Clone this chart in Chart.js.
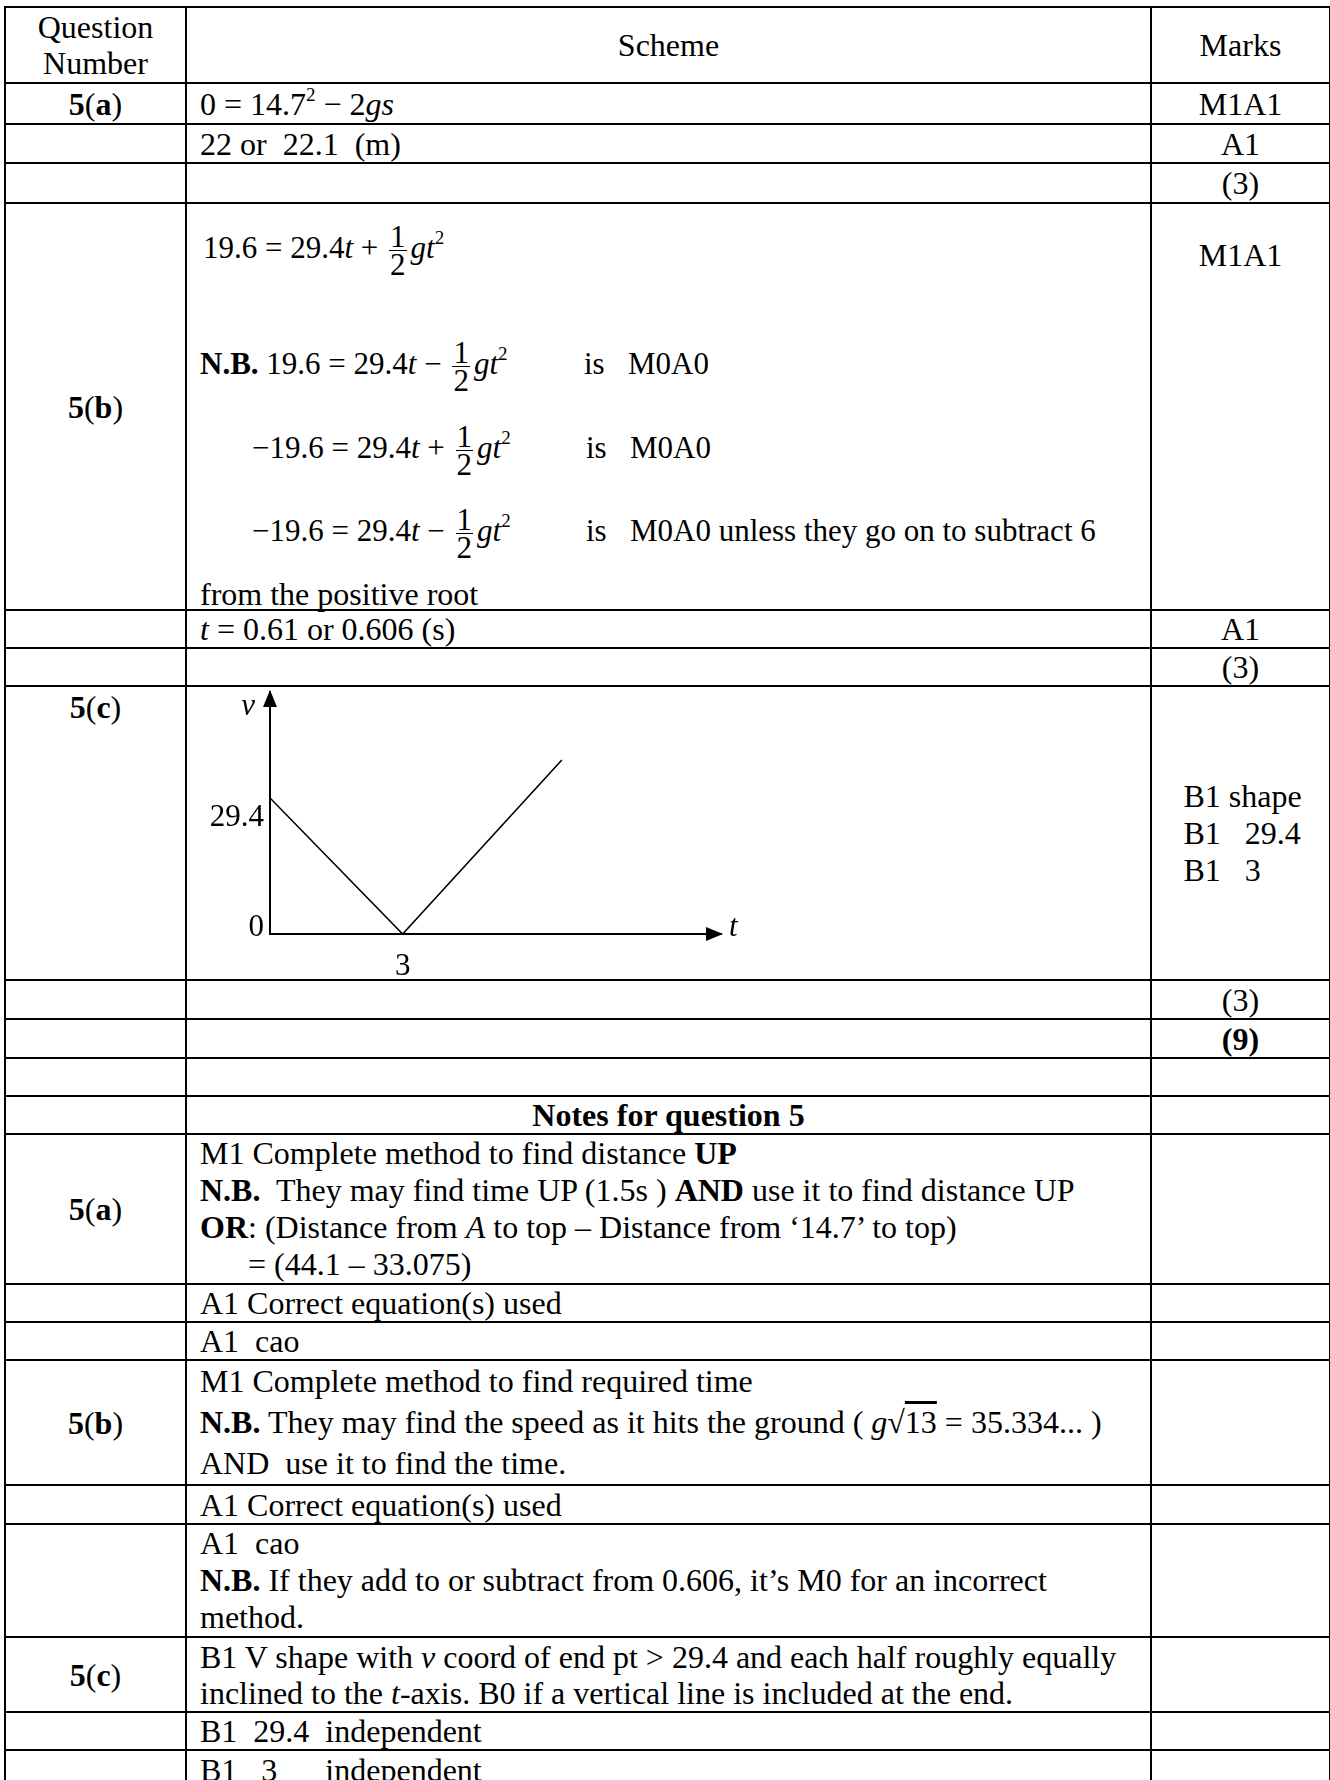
<!DOCTYPE html>
<html>
<head>
<meta charset="utf-8">
<script src="https://cdn.jsdelivr.net/npm/chart.js@4.4.0/dist/chart.umd.min.js"></script>
<style>
html, body { margin: 0; padding: 0; background: #fff; }
body {
  width: 1330px; height: 1780px; overflow: hidden; position: relative;
  font-family: "Liberation Serif", "Times New Roman", serif; font-size: 32px; color: #000;
}
#ms { position: absolute; left: 4px; top: 6px; width: 1325px; border-collapse: collapse; table-layout: fixed; }
#ms td { border: 2px solid #000; padding: 0 0 0 13px; line-height: 36px; white-space: nowrap; vertical-align: middle; }
#ms td.q, #ms td.m { text-align: center; padding: 0; }
#ms td.top { vertical-align: top; }
.p { white-space: pre; }
.frac { display: inline-block; vertical-align: middle; text-align: center; line-height: 27px; margin: 0 4px 0 3px; }
.frac span { display: block; padding: 0 1px; }
.frac span:first-child { border-bottom: 1.5px solid #000; }
sup { font-size: 19px; line-height: 0; vertical-align: 14px; }
.rel { position: relative; height: 405px; }
.ln { position: absolute; height: 60px; line-height: 60px; white-space: pre; font-size: 31px; }
.blk { display: inline-block; text-align: left; white-space: pre; line-height: 37px; }
.rt { display: inline-block; line-height: 31px; }
#chartBox { position: absolute; left: 190px; top: 686px; width: 570px; height: 294px; }
</style>
</head>
<body>

<table id="ms">
<colgroup><col style="width:181px"><col style="width:965px"><col style="width:179px"></colgroup>
<tr style="height:76px"><td class="q">Question<br>Number</td><td class="q">Scheme</td><td class="m">Marks</td></tr>
<tr style="height:41px"><td class="q"><b>5</b>(<b>a</b>)</td><td>0 = 14.7<sup>2</sup> − 2<i>gs</i></td><td class="m">M1A1</td></tr>
<tr style="height:39px"><td class="q"></td><td><span class="p">22 or  22.1  (m)</span></td><td class="m">A1</td></tr>
<tr style="height:40px"><td class="q"></td><td></td><td class="m">(3)</td></tr>
<tr style="height:407px"><td class="q"><b>5</b>(<b>b</b>)</td><td class="top" style="padding:0"><div class="rel"><div class="ln" style="top:14px;left:16px">19.6 = 29.4<i>t</i> + <span class="frac"><span>1</span><span>2</span></span><i>gt</i><sup>2</sup></div><div class="ln" style="top:130px;left:13px"><b>N.B.</b> 19.6 = 29.4<i>t</i> − <span class="frac"><span>1</span><span>2</span></span><i>gt</i><sup>2</sup></div><div class="ln" style="top:130px;left:397px">is   M0A0</div><div class="ln" style="top:214px;left:65px">−19.6 = 29.4<i>t</i> + <span class="frac"><span>1</span><span>2</span></span><i>gt</i><sup>2</sup></div><div class="ln" style="top:214px;left:399px">is   M0A0</div><div class="ln" style="top:297px;left:65px">−19.6 = 29.4<i>t</i> − <span class="frac"><span>1</span><span>2</span></span><i>gt</i><sup>2</sup></div><div class="ln" style="top:297px;left:399px">is   M0A0 unless they go on to subtract 6</div><div class="ln" style="top:360px;left:13px;font-size:32px">from the positive root</div></div></td><td class="m top" style="padding-top:33px">M1A1</td></tr>
<tr style="height:38px"><td class="q"></td><td><i>t</i> = 0.61 or 0.606 (s)</td><td class="m">A1</td></tr>
<tr style="height:38px"><td class="q"></td><td></td><td class="m">(3)</td></tr>
<tr style="height:294px"><td class="q top" style="padding-top:2px"><b>5</b>(<b>c</b>)</td><td></td><td class="m"><div class="blk" style="margin-left:4px">B1 shape
B1   29.4
B1   3</div></td></tr>
<tr style="height:39px"><td class="q"></td><td></td><td class="m">(3)</td></tr>
<tr style="height:39px"><td class="q"></td><td></td><td class="m"><b>(9)</b></td></tr>
<tr style="height:38px"><td class="q"></td><td></td><td class="m"></td></tr>
<tr style="height:37px"><td class="q"></td><td class="q"><b>Notes for question 5</b></td><td class="m"></td></tr>
<tr style="height:150px"><td class="q"><b>5</b>(<b>a</b>)</td><td style="line-height:37px">M1 Complete method to find distance <b>UP</b><br><b>N.B.</b><span class="p">  </span>They may find time UP (1.5s ) <b>AND</b> use it to find distance UP<br><b>OR</b>: (Distance from <i>A</i> to top – Distance from ‘14.7’ to top)<br><span class="p">      = (44.1 – 33.075)</span></td><td class="m"></td></tr>
<tr style="height:38px"><td class="q"></td><td>A1 Correct equation(s) used</td><td class="m"></td></tr>
<tr style="height:37px"><td class="q"></td><td><span class="p">A1  cao</span></td><td class="m"></td></tr>
<tr style="height:125px"><td class="q"><b>5</b>(<b>b</b>)</td><td style="line-height:41px">M1 Complete method to find required time<br><b>N.B.</b> They may find the speed as it hits the ground ( <i>g</i><span class="rt">√<span style="text-decoration:overline">13</span></span> = 35.334... )<br><span class="p">AND  use it to find the time.</span></td><td class="m"></td></tr>
<tr style="height:39px"><td class="q"></td><td>A1 Correct equation(s) used</td><td class="m"></td></tr>
<tr style="height:112px"><td class="q"></td><td style="line-height:37px"><span class="p">A1  cao</span><br><b>N.B.</b> If they add to or subtract from 0.606, it’s M0 for an incorrect<br>method.</td><td class="m"></td></tr>
<tr style="height:75px"><td class="q"><b>5</b>(<b>c</b>)</td><td>B1 V shape with <i>v</i> coord of end pt &gt; 29.4 and each half roughly equally<br>inclined to the <i>t</i>-axis. B0 if a vertical line is included at the end.</td><td class="m"></td></tr>
<tr style="height:38px"><td class="q"></td><td><span class="p">B1  29.4  independent</span></td><td class="m"></td></tr>
<tr style="height:39px"><td class="q"></td><td><span class="p">B1   3      independent</span></td><td class="m"></td></tr>
</table>

<div id="chartBox"><canvas id="vtChart"></canvas></div>

<script>
// v-t graph for 5(c)
const tValues = [0, 3, 6.6];
const vValues = [29.4, 0, 37.6];
const tTicks = [3];
const tTickLabels = ['3'];
const vTicks = [29.4, 0];
const vTickLabels = ['29.4', '0'];
const axisTitles = ['t', 'v'];
const tAxisEnd = 10.2;
const vAxisEnd = 52.3;

const serif = '"Liberation Serif", "Times New Roman", serif';

const axesPlugin = {
  id: 'axesPlugin',
  afterDraw(chart) {
    const ctx = chart.ctx;
    const xs = chart.scales.x;
    const ys = chart.scales.y;
    const x0 = xs.getPixelForValue(0);
    const y0 = ys.getPixelForValue(0);
    const xe = xs.getPixelForValue(tAxisEnd);
    const ye = ys.getPixelForValue(vAxisEnd);
    ctx.save();
    ctx.fillStyle = '#000';

    // arrow heads
    ctx.beginPath();
    ctx.moveTo(xe + 2, y0);
    ctx.lineTo(xe - 15, y0 - 7);
    ctx.lineTo(xe - 15, y0 + 7);
    ctx.closePath();
    ctx.fill();

    ctx.beginPath();
    ctx.moveTo(x0, ye - 2);
    ctx.lineTo(x0 - 7, ye + 15);
    ctx.lineTo(x0 + 7, ye + 15);
    ctx.closePath();
    ctx.fill();

    // labels on the v axis sit a little off their values
    const shift = [20, -6];
    ctx.font = '31px ' + serif;
    ctx.textAlign = 'right';
    ctx.textBaseline = 'middle';
    vTicks.forEach((v, i) => {
      ctx.fillText(vTickLabels[i], x0 - 6, ys.getPixelForValue(v) + shift[i]);
    });

    ctx.font = 'italic 31px ' + serif;
    ctx.textAlign = 'left';
    ctx.fillText(axisTitles[0], xe + 8, y0 - 6);
    ctx.textAlign = 'right';
    ctx.fillText(axisTitles[1], x0 - 15, ye + 15);
    ctx.restore();
  }
};

const ctx = document.getElementById('vtChart').getContext('2d');
const vtChart = new Chart(ctx, {
  type: 'line',
  data: {
    datasets: [{
      data: tValues.map((t, i) => ({ x: t, y: vValues[i] })),
      borderColor: '#000',
      borderWidth: 1.6,
      pointRadius: 0,
      tension: 0,
      fill: false
    }]
  },
  options: {
    responsive: true,
    maintainAspectRatio: false,
    animation: false,
    devicePixelRatio: 1,
    layout: { padding: { top: 6, right: 39, left: 0, bottom: 0 } },
    plugins: { legend: { display: false }, tooltip: { enabled: false } },
    scales: {
      x: {
        type: 'linear',
        min: 0,
        max: tAxisEnd,
        grid: { display: false, drawTicks: false },
        border: { display: true, color: '#000', width: 2 },
        afterBuildTicks: (s) => { s.ticks = tTicks.map(v => ({ value: v })); },
        afterFit: (s) => { s.height = 46; },
        ticks: {
          padding: 14,
          color: '#000',
          maxRotation: 0,
          autoSkip: false,
          font: { family: serif, size: 31 },
          callback: (v) => tTickLabels[tTicks.indexOf(v)]
        }
      },
      y: {
        type: 'linear',
        min: 0,
        max: vAxisEnd,
        grid: { display: false, drawTicks: false },
        border: { display: true, color: '#000', width: 2 },
        ticks: { display: false },
        afterFit: (s) => { s.width = 80; }
      }
    }
  },
  plugins: [axesPlugin]
});
</script>
</body>
</html>
